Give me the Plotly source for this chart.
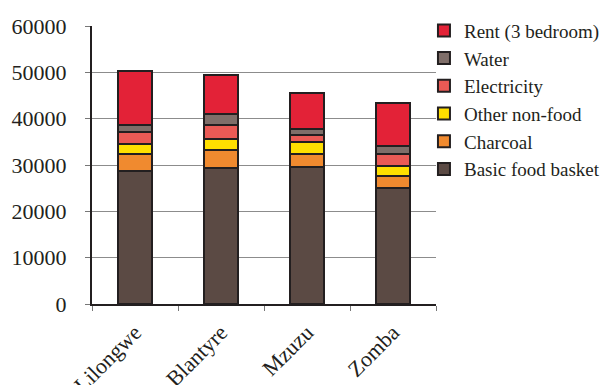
import plotly.graph_objects as go

# Monthly cost of living components by city (Malawi kwacha)
cities = ["Lilongwe", "Blantyre", "Mzuzu", "Zomba"]
basic_food_basket = [28700, 29350, 29550, 24950]
charcoal = [3750, 3950, 2750, 2750]
other_non_food = [2150, 2400, 2650, 2150]
electricity = [2500, 2850, 1450, 2450]
water = [1450, 2550, 1450, 1800]
rent_3_bedroom = [11650, 8250, 7700, 9350]

y_ticks = [0, 10000, 20000, 30000, 40000, 50000, 60000]

series = [
    ("Basic food basket", basic_food_basket, "#5b4a44"),
    ("Charcoal", charcoal, "#f08a2f"),
    ("Other non-food", other_non_food, "#ffdf00"),
    ("Electricity", electricity, "#ea5a55"),
    ("Water", water, "#7f6e69"),
    ("Rent (3 bedroom)", rent_3_bedroom, "#e32237"),
]

fig = go.Figure()
for name, vals, color in series:
    fig.add_trace(go.Bar(
        x=cities, y=vals, name=name,
        marker=dict(color=color, line=dict(color="#231f20", width=2)),
        width=0.4,
    ))

font_family = "Liberation Serif"
fig.update_layout(
    width=602, height=385,
    barmode="stack",
    plot_bgcolor="white", paper_bgcolor="white",
    margin=dict(l=92, r=166, t=26, b=81, autoexpand=False),
    font=dict(family=font_family, size=22, color="#231f20"),
    legend=dict(
        x=0.965, xanchor="left", y=1.052, yanchor="top",
        traceorder="reversed",
        font=dict(family=font_family, size=19, color="#231f20"),
        bgcolor="rgba(0,0,0,0)",
    ),
    xaxis=dict(
        showline=True, linecolor="#231f20", linewidth=2,
        ticks="outside", tickson="boundaries", ticklen=5, tickcolor="#777",
        tickangle=-45, tickfont=dict(size=22), ticklabelstandoff=5,
        showgrid=False, automargin=False,
    ),
    yaxis=dict(
        range=[0, 60000], tickvals=y_ticks, tickformat="d",
        showline=True, linecolor="#231f20", linewidth=2,
        ticks="outside", ticklen=5, tickcolor="#777",
        showgrid=True, gridcolor="#8c8c8c", gridwidth=1,
        zeroline=False, ticklabelstandoff=14, automargin=False,
    ),
)

fig.write_html("out.html")
